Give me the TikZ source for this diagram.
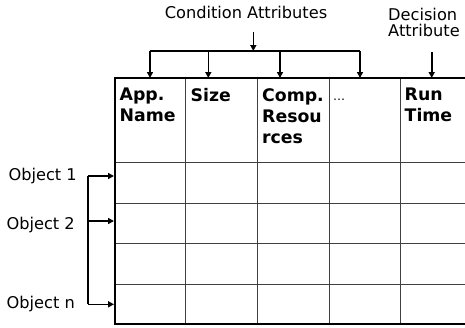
\documentclass[tikz,border=0pt]{standalone}
\usepackage{fontspec}
\setmainfont{DejaVu Sans}
\usetikzlibrary{arrows.meta}

\tikzset{
  pointer/.style={line width=1.6pt,-{Triangle[length=6pt,width=6pt]}},
  frame/.style={line width=2.2pt},
  grid/.style={line width=0.9pt,black!75},
  head/.style={anchor=north west,align=left,inner sep=0pt,
    font=\bfseries\fontsize{17.3}{21}\selectfont},
  lbl/.style={inner sep=0pt,font=\fontsize{16.2}{16.7}\selectfont}
}

\begin{document}
\begin{tikzpicture}[x=1pt,y=-1pt]
\useasboundingbox (0,0) rectangle (465,327);

%%Table
\foreach \x in {185.7,257.3,329,400}
  \draw[grid] (\x,78) -- (\x,324);
\foreach \y in {162,203,243,284}
  \draw[grid] (115,\y) -- (465,\y);
\draw[frame] (465,78) -- (115,78) -- (115,324) -- (465,324);

%%Column heads
\node[head] (app)  at (119.5,88) {App.\\Name};
\node[head] (size) at (190.5,88) {Size};
\node[head] (comp) at (262,88) {Comp.\\Resou\\rces};
\node[inner sep=0pt,anchor=base west,font=\fontsize{12}{14}\selectfont] (dots) at (333,100.5) {\dots};
\node[head] (run)  at (404.5,88) {Run\\Time};

%%Attribute labels
\node[lbl,anchor=base] (cond) at (246,18.5) {Condition Attributes};
\node[lbl,anchor=north west,align=left] (dec) at (388,7.5) {Decision\\Attribute};

%%Condition bracket
\coordinate (cstem) at (253.3,32);
\coordinate (cbar)  at (253.3,51);
\coordinate (bl) at (150,51);
\coordinate (br) at (360,51);
\draw[pointer] (cstem) -- (cbar);
\draw[line width=1.6pt] (bl) -- (br);
\foreach \x in {150,208.3,280,360}
  \draw[pointer] (\x,51) -- (\x,78);

%%Decision arrow
\coordinate (dstem) at (431.7,52);
\coordinate (dtip)  at (431.7,78);
\draw[pointer] (dstem) -- (dtip);

%%Object labels
\node[lbl,anchor=base east] (obj1) at (77,180) {Object 1};
\node[lbl,anchor=base east] (obj2) at (75,229.5) {Object 2};
\node[lbl,anchor=base east] (objn) at (75,308) {Object n};

%%Object bracket
\coordinate (ot) at (88,176);
\coordinate (om) at (88,221);
\coordinate (ob) at (88,304.3);
\draw[line width=1.6pt] (ot) -- (ob);
\draw[pointer] (ot) -- (114,176);
\draw[pointer] (om) -- (114,221);
\draw[pointer] (ob) -- (114,304.3);
\end{tikzpicture}
\end{document}
